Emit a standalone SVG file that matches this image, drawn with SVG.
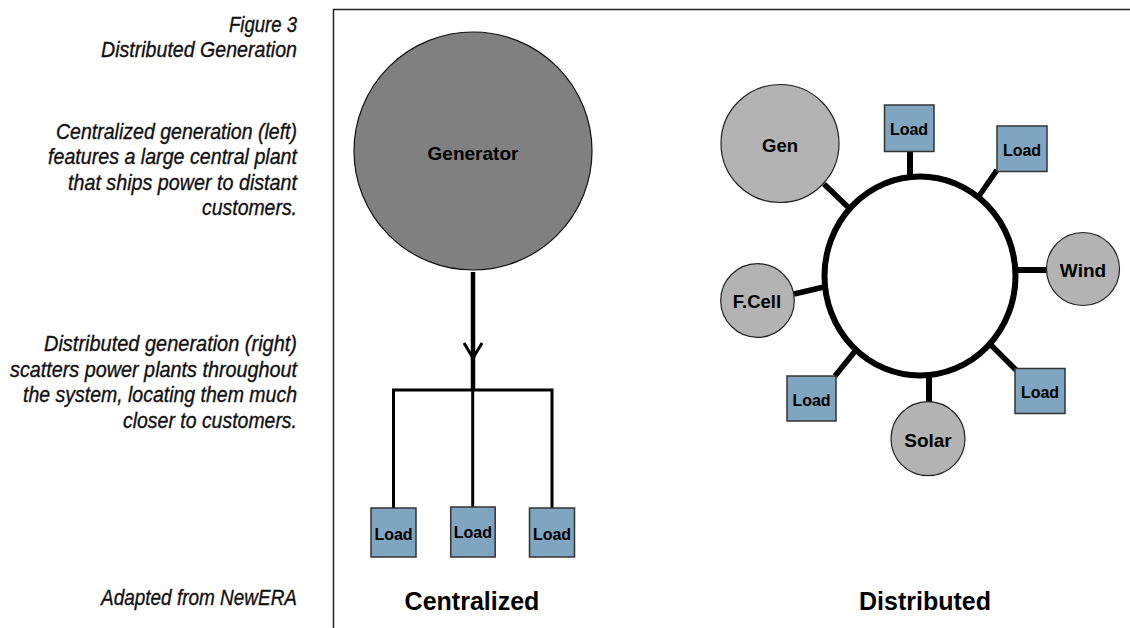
<svg xmlns="http://www.w3.org/2000/svg" width="1130" height="628" viewBox="0 0 1130 628">
<style>
.cap{font-family:"Liberation Sans",Arial,sans-serif;font-style:italic;font-size:22px;fill:#111;text-anchor:end;stroke:#111;stroke-width:0.35}
.lbl{font-family:"Liberation Sans",Arial,sans-serif;font-weight:bold;fill:#000;text-anchor:middle}
.load{fill:#7fa5c0;stroke:#333;stroke-width:1.5}
.gen{fill:#b3b3b3;stroke:#222;stroke-width:1.2}
.wire{stroke:#000;fill:none;stroke-linecap:butt}
</style>
<defs>
<marker id="vhead" markerUnits="userSpaceOnUse" viewBox="0 0 20 20" markerWidth="20" markerHeight="20" refX="18" refY="10" orient="auto">
<path d="M3,1 L18,10 L3,19" fill="none" stroke="#000" stroke-width="3"/>
</marker>
</defs>
<rect width="1130" height="628" fill="#fff"/>
<path d="M1130,9.5 H333.5 V628" fill="none" stroke="#222" stroke-width="1.5"/>
<g id="caption">
<text class="cap" x="297" y="32" textLength="68" lengthAdjust="spacingAndGlyphs">Figure 3</text>
<text class="cap" x="297" y="57" textLength="196" lengthAdjust="spacingAndGlyphs">Distributed Generation</text>
<text class="cap" x="297" y="139" textLength="241" lengthAdjust="spacingAndGlyphs">Centralized generation (left)</text>
<text class="cap" x="297" y="164" textLength="249" lengthAdjust="spacingAndGlyphs">features a large central plant</text>
<text class="cap" x="297" y="190" textLength="229" lengthAdjust="spacingAndGlyphs">that ships power to distant</text>
<text class="cap" x="297" y="215" textLength="95" lengthAdjust="spacingAndGlyphs">customers.</text>
<text class="cap" x="297" y="351" textLength="253" lengthAdjust="spacingAndGlyphs">Distributed generation (right)</text>
<text class="cap" x="297" y="377" textLength="287" lengthAdjust="spacingAndGlyphs">scatters power plants throughout</text>
<text class="cap" x="297" y="402" textLength="274" lengthAdjust="spacingAndGlyphs">the system, locating them much</text>
<text class="cap" x="297" y="428" textLength="174" lengthAdjust="spacingAndGlyphs">closer to customers.</text>
<text class="cap" x="297" y="605" textLength="196" lengthAdjust="spacingAndGlyphs">Adapted from NewERA</text>
</g>
<g id="connectors">
<line class="wire" x1="473" y1="272" x2="473" y2="358" stroke-width="4.5" marker-end="url(#vhead)"/>
<line class="wire" x1="473" y1="356" x2="473" y2="390" stroke-width="4.5"/>
<polyline class="wire" points="393.5,508 393.5,390 552,390 552,508" stroke-width="3"/>
<line class="wire" x1="472.7" y1="390" x2="472.7" y2="507" stroke-width="3"/>
<line class="wire" x1="824" y1="184" x2="849" y2="208" stroke-width="5.5"/>
<line class="wire" x1="910" y1="151" x2="910" y2="177" stroke-width="6"/>
<line class="wire" x1="997" y1="170" x2="979" y2="196" stroke-width="5.5"/>
<line class="wire" x1="1014" y1="270" x2="1047" y2="270" stroke-width="6"/>
<line class="wire" x1="794" y1="294" x2="824" y2="287" stroke-width="5.5"/>
<line class="wire" x1="835" y1="376" x2="856" y2="350" stroke-width="5.5"/>
<line class="wire" x1="929" y1="374" x2="929" y2="402" stroke-width="6"/>
<line class="wire" x1="990" y1="344" x2="1016" y2="370" stroke-width="5.5"/>
</g>
<g id="generator">
<circle cx="473" cy="151" r="119" fill="#808080" stroke="#111" stroke-width="1.2"/>
<text class="lbl" x="473" y="160" font-size="19">Generator</text>
</g>
<g id="c-load-1"><rect class="load" x="371" y="508" width="45" height="49"/><text class="lbl" x="393.5" y="540" font-size="16">Load</text></g>
<g id="c-load-2"><rect class="load" x="450.7" y="507" width="44.5" height="50"/><text class="lbl" x="472.9" y="538" font-size="16">Load</text></g>
<g id="c-load-3"><rect class="load" x="529.5" y="508" width="45" height="49"/><text class="lbl" x="552" y="540" font-size="16">Load</text></g>
<text class="lbl" x="472" y="610" font-size="25">Centralized</text>
<g id="ring"><ellipse cx="920" cy="276" rx="95.5" ry="99.5" fill="#fff" stroke="#000" stroke-width="6"/></g>
<g id="d-gen"><circle class="gen" cx="780" cy="143.5" r="59"/><text class="lbl" x="780" y="152" font-size="18.5">Gen</text></g>
<g id="d-load-top"><rect class="load" x="884.5" y="105" width="49.5" height="46.5"/><text class="lbl" x="909" y="135" font-size="16">Load</text></g>
<g id="d-load-tr"><rect class="load" x="997" y="126" width="50" height="45.5"/><text class="lbl" x="1022" y="155.5" font-size="16">Load</text></g>
<g id="d-wind"><circle class="gen" cx="1083" cy="269" r="36.5"/><text class="lbl" x="1083" y="277" font-size="19">Wind</text></g>
<g id="d-fcell"><circle class="gen" cx="757.5" cy="300.5" r="36.8"/><text class="lbl" x="757" y="308" font-size="18.5">F.Cell</text></g>
<g id="d-load-bl"><rect class="load" x="787" y="376" width="49" height="45"/><text class="lbl" x="811.5" y="405.5" font-size="16">Load</text></g>
<g id="d-solar"><circle class="gen" cx="928" cy="438.7" r="37"/><text class="lbl" x="928" y="446.5" font-size="19">Solar</text></g>
<g id="d-load-br"><rect class="load" x="1015" y="368.5" width="50" height="45"/><text class="lbl" x="1040" y="398" font-size="16">Load</text></g>
<text class="lbl" x="925" y="610" font-size="25">Distributed</text>
</svg>
